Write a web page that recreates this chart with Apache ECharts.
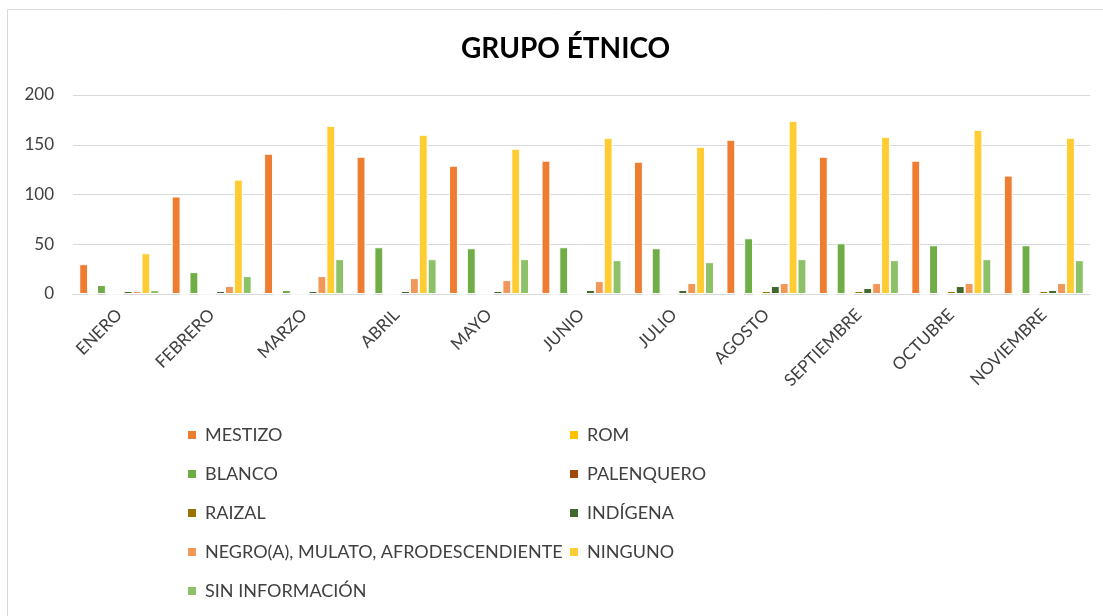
<!DOCTYPE html>
<html>
<head>
<meta charset="utf-8">
<title>GRUPO ÉTNICO</title>
<script src="https://cdn.jsdelivr.net/npm/echarts@6/dist/echarts.min.js"></script>
<style>
    html, body {
        margin: 0;
        padding: 0;
        background: #fff;
    }
    #chart {
        width: 1103px;
        height: 616px;
    }
</style>
</head>
<body>
<div id="chart"></div>
<script>
// meses
const meses = ['ENERO', 'FEBRERO', 'MARZO', 'ABRIL', 'MAYO', 'JUNIO', 'JULIO', 'AGOSTO', 'SEPTIEMBRE', 'OCTUBRE', 'NOVIEMBRE']

// valores por grupo
const mestizo = [30, 98, 141, 138, 129, 134, 133, 155, 138, 134, 119]
const rom = [0, 0, 0, 0, 0, 0, 0, 0, 0, 0, 0]
const blanco = [9, 22, 4, 47, 46, 47, 46, 56, 51, 49, 49]
const palenquero = [0, 0, 0, 0, 0, 0, 0, 0, 0, 0, 0]
const raizal = [0, 0, 0, 0, 0, 0, 0, 3, 3, 3, 3]
const indigena = [3, 3, 3, 3, 3, 4, 4, 8, 6, 8, 4]
const negro = [3, 8, 18, 16, 14, 13, 11, 11, 11, 11, 11]
const ninguno = [41, 115, 169, 160, 146, 157, 148, 174, 158, 165, 157]
const sinInfo = [4, 18, 35, 35, 35, 34, 32, 35, 34, 35, 34]

// ticks del eje y
const yTicks = [0, 50, 100, 150, 200]

const grupos = [
    { name: 'MESTIZO', data: mestizo, color: '#ED7D31' },
    { name: 'ROM', data: rom, color: '#FFC000' },
    { name: 'BLANCO', data: blanco, color: '#70AD47' },
    { name: 'PALENQUERO', data: palenquero, color: '#9E480E' },
    { name: 'RAIZAL', data: raizal, color: '#997300' },
    { name: 'INDÍGENA', data: indigena, color: '#43682B' },
    { name: 'NEGRO(A), MULATO, AFRODESCENDIENTE', data: negro, color: '#F1975A' },
    { name: 'NINGUNO', data: ninguno, color: '#FFCD33' },
    { name: 'SIN INFORMACIÓN', data: sinInfo, color: '#8CC168' },
]

const fuente = 'Lato, "Liberation Sans", sans-serif'

// leyenda en dos columnas
const legendBase = {
    orient: 'vertical',
    top: 425,
    padding: 0,
    itemWidth: 10,
    itemHeight: 10,
    itemGap: 19,
    icon: 'rect',
    selectedMode: false,
    textStyle: {
        fontFamily: fuente,
        fontSize: 18,
        lineHeight: 20,
        color: '#404040',
        padding: [0, 0, 0, 3]
    }
}

const option = {
    animation: false,
    title: {
        text: 'GRUPO ÉTNICO',
        left: 456,
        top: 30,
        textStyle: {
            fontFamily: fuente,
            fontSize: 28,
            fontWeight: 'bold',
            color: '#000'
        }
    },
    legend: [
        Object.assign({}, legendBase, {
            left: 186,
            data: grupos.filter((g, i) => i % 2 === 0).map(g => g.name)
        }),
        Object.assign({}, legendBase, {
            left: 568,
            data: grupos.filter((g, i) => i % 2 === 1).map(g => g.name)
        })
    ],
    grid: {
        left: 73,
        right: 13,
        top: 95,
        bottom: 322,
        containLabel: false
    },
    xAxis: {
        type: 'category',
        data: meses,
        axisLine: { lineStyle: { color: '#d9d9d9', width: 1 } },
        axisTick: { show: false },
        axisLabel: {
            rotate: 45,
            interval: 0,
            margin: 18,
            fontFamily: fuente,
            fontSize: 17,
            color: '#404040'
        }
    },
    yAxis: {
        type: 'value',
        min: yTicks[0],
        max: yTicks[yTicks.length - 1],
        interval: 50,
        axisLine: { show: false },
        axisTick: { show: false },
        splitLine: { lineStyle: { color: '#d9d9d9', width: 1 } },
        axisLabel: {
            margin: 19,
            fontFamily: fuente,
            fontSize: 17,
            color: '#404040'
        }
    },
    graphic: [
        {
            // borde del gráfico
            type: 'rect',
            shape: { x: 7.5, y: 9.5, width: 1120, height: 640 },
            style: { fill: 'none', stroke: '#d9d9d9', lineWidth: 1 },
            silent: true
        }
    ],
    series: grupos.map(g => ({
        name: g.name,
        type: 'bar',
        data: g.data,
        barGap: '0%',
        barCategoryGap: '13.5%',
        itemStyle: {
            color: g.color,
            borderColor: '#fff',
            borderWidth: 1
        }
    }))
}

const myChart = echarts.init(document.getElementById('chart'))
myChart.setOption(option)
</script>
</body>
</html>
